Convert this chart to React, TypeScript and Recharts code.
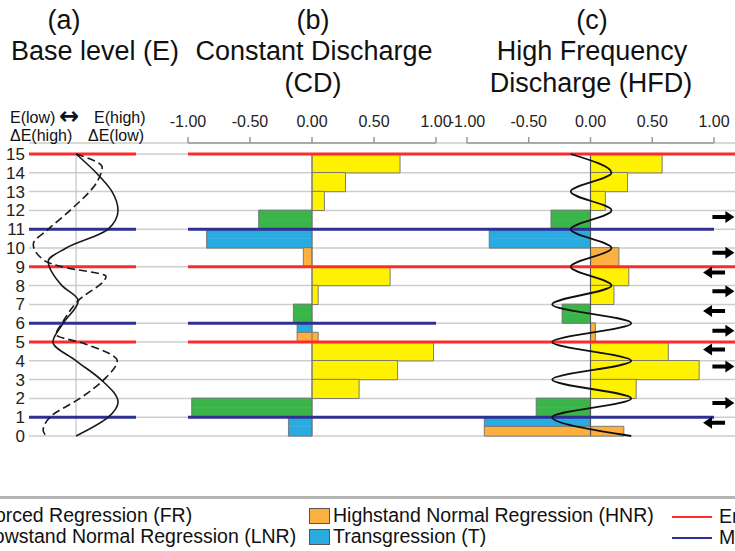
import React from "react";
import {
  ComposedChart,
  Bar,
  Line,
  Scatter,
  XAxis,
  YAxis,
  CartesianGrid,
  ReferenceLine,
} from "recharts";

const W = 735;
const H = 551;
const FONT = '"Liberation Sans", Arial, Helvetica, sans-serif';

// every layer shares this vertical frame: level 15 at y=154, level 0 at y=436
const PLOT_TOP = 143;
const PLOT_BOTTOM = 436;
const Y_MAX = 15 + 11 / 18.8;

const levelTicks = [0, 1, 2, 3, 4, 5, 6, 7, 8, 9, 10, 11, 12, 13, 14, 15];
const rowBase = [14, 13, 12, 11, 10, 9, 8, 7, 6, 5, 4, 3, 2, 1, 0];
const redLevels = [15, 9, 5];
const blueLevelsB = [11, 6, 1];
const blueLevelsC = [11, 1];
const valueTicks = [-1, -0.5, 0, 0.5, 1];

// (a) base level E (solid) and its change dE (dashed)
const eLevels = [15, 14, 13, 12, 11, 10, 9.3, 8, 7.2, 6, 5, 4, 3, 1.8, 1, 0];
const eValues = [0, 0.47, 0.84, 0.98, 0.75, -0.23, -0.65, -0.33, 0.05, -0.3, -0.54, 0, 0.58, 0.98, 0.75, 0];
const dELevels = [15, 14.3, 13.6, 12, 11, 10.2, 9.3, 9, 8.5, 7.2, 6, 5.4, 4.9, 4, 3, 2, 1, 0.3, 0];
const dEValues = [0, 0.61, 0.51, -0.14, -0.65, -1.0, -0.72, -0.33, 0.7, 0.05, -0.33, -0.47, 0.21, 0.96, 0.65, 0.09, -0.61, -0.77, -0.7];

// (b) constant discharge: upper / lower half of each interval, top row first
const cdUpperType = ["FR", "FR", "FR", "LNR", "T", "HNR", "FR", "FR", "LNR", "T", "FR", "FR", "FR", "LNR", "T"];
const cdUpperValue: (number | number[])[] = [0.71, 0.27, 0.1, -0.43, -0.85, -0.07, 0.63, 0.05, -0.15, -0.12, 0.98, 0.69, 0.38, -0.97, -0.19];
const cdLowerType = ["FR", "FR", "FR", "LNR", "T", "HNR", "FR", "FR", "LNR", "HNR", "FR", "FR", "FR", "LNR", "T"];
const cdLowerValue: (number | number[])[] = [0.71, 0.27, 0.1, -0.43, -0.85, -0.07, 0.63, 0.05, -0.15, [-0.12, 0.05], 0.98, 0.69, 0.38, -0.97, -0.19];

// (c) high frequency discharge
const hfdUpperType = ["FR", "FR", "FR", "LNR", "T", "HNR", "FR", "FR", "LNR", "HNR", "FR", "FR", "FR", "LNR", "T"];
const hfdUpperValue: (number | number[])[] = [0.58, 0.3, 0.12, -0.32, -0.82, 0.23, 0.31, 0.19, -0.23, 0.04, 0.63, 0.88, 0.37, -0.44, -0.86];
const hfdLowerType = ["FR", "FR", "FR", "LNR", "T", "HNR", "FR", "FR", "LNR", "HNR", "FR", "FR", "FR", "LNR", "HNR"];
const hfdLowerValue: (number | number[])[] = [0.58, 0.3, 0.12, -0.32, -0.82, 0.23, 0.31, 0.19, -0.23, 0.04, 0.63, 0.88, 0.37, -0.44, [-0.86, 0.27]];

const hfdCurveLevels = [15, 14, 13, 12, 11, 10, 9, 8, 7, 6, 5, 4, 3, 2, 1, 0];
const hfdCurveValues = [-0.16, 0.17, -0.16, 0.17, -0.16, 0.17, -0.16, 0.17, -0.31, 0.33, -0.31, 0.33, -0.31, 0.33, -0.31, 0.33];

// shoreline direction arrows beside (c)
const arrowLevels = [11.65, 9.75, 8.7, 7.7, 6.65, 5.6, 4.6, 3.7, 1.75, 0.7];
const arrowDirs = ["right", "right", "left", "right", "left", "right", "left", "right", "right", "left"];

const typeColor: Record<string, string> = {
  FR: "#fff200",
  LNR: "#3bb54a",
  HNR: "#fbb040",
  T: "#29abe2",
};

const legendLeft = [
  { label: "Forced Regression (FR)", type: "FR" },
  { label: "Lowstand Normal Regression (LNR)", type: "LNR" },
];
const legendMid = [
  { label: "Highstand Normal Regression (HNR)", type: "HNR" },
  { label: "Transgression (T)", type: "T" },
];
const legendLines = [
  { label: "End of regression", color: "#ff2a2a" },
  { label: "Maximum flooding", color: "#2e3192" },
];

const toRange = (v: number | number[]) => (Array.isArray(v) ? v : [Math.min(0, v), Math.max(0, v)]);

const buildRows = (uT: string[], uV: (number | number[])[], lT: string[], lV: (number | number[])[]) =>
  rowBase.flatMap((base, i) => {
    const joined = uT[i] === lT[i] && String(uV[i]) === String(lV[i]);
    return [
      { level: base + 0.75, type: uT[i], range: toRange(uV[i]), edgeTop: true, edgeBottom: !joined },
      { level: base + 0.25, type: lT[i], range: toRange(lV[i]), edgeTop: !joined, edgeBottom: true },
    ];
  });

const cdRows = buildRows(cdUpperType, cdUpperValue, cdLowerType, cdLowerValue);
const hfdRows = buildRows(hfdUpperType, hfdUpperValue, hfdLowerType, hfdLowerValue);
const halfTicks = rowBase.flatMap((b) => [b + 0.25, b + 0.75]);

const gridRows = levelTicks.map((level) => ({ level, x: 0 }));
const eCurve = eLevels.map((level, i) => ({ level, v: eValues[i] }));
const dECurve = dELevels.map((level, i) => ({ level, v: dEValues[i] }));
const hfdCurve = hfdCurveLevels.map((level, i) => ({ level, v: hfdCurveValues[i] }));
const arrowData = arrowLevels.map((level, i) => ({ level, dir: arrowDirs[i], x: arrowDirs[i] === "right" ? 0.64 : 0.43 }));

const BarShape = (props: any) => {
  const { x, y, width, height, payload } = props;
  if (x == null || y == null || !width) return null;
  const left = Math.min(x, x + width);
  const right = Math.max(x, x + width);
  const top = y - 0.3;
  const bottom = y + height + 0.5;
  const parts = [`M${left},${top}L${left},${bottom}`, `M${right},${top}L${right},${bottom}`];
  if (payload.edgeTop) parts.push(`M${left},${top}L${right},${top}`);
  if (payload.edgeBottom) parts.push(`M${left},${bottom}L${right},${bottom}`);
  return (
    <g>
      <rect x={left} y={top} width={right - left} height={bottom - top} fill={typeColor[payload.type]} />
      <path d={parts.join("")} stroke="#707070" strokeWidth={0.9} fill="none" />
    </g>
  );
};

const ArrowShape = (props: any) => {
  const { cx, cy, payload } = props;
  const s = payload.dir === "right" ? 1 : -1;
  const tail = cx - s * 10;
  const neck = cx + s * 3;
  const tip = cx + s * 12;
  const d = `M${tail},${cy - 2}L${neck},${cy - 2}L${neck},${cy - 6}L${tip},${cy}L${neck},${cy + 6}L${neck},${cy + 2}L${tail},${cy + 2}Z`;
  return <path d={d} fill="#000" />;
};

const layer: React.CSSProperties = { position: "absolute", left: 0, top: 0 };

const Centered = ({ cx, cy, size, children }: any) => (
  <div
    style={{
      position: "absolute",
      left: cx - 200,
      width: 400,
      top: cy - size * 0.6,
      lineHeight: `${size * 1.2}px`,
      fontSize: size,
      textAlign: "center",
      whiteSpace: "nowrap",
      color: "#111",
    }}
  >
    {children}
  </div>
);

const TextAt = ({ x, cy, size, children, style }: any) => (
  <div
    style={{
      position: "absolute",
      left: x,
      top: cy - size * 0.6,
      lineHeight: `${size * 1.2}px`,
      fontSize: size,
      whiteSpace: "nowrap",
      color: "#111",
      ...style,
    }}
  >
    {children}
  </div>
);

const valueAxisProps = {
  type: "number" as const,
  orientation: "top" as const,
  domain: [-1, 1],
  ticks: valueTicks,
  interval: 0,
  tickFormatter: (v: number) => v.toFixed(2),
  height: 30,
  axisLine: { stroke: "#9a9a9a", strokeWidth: 1.5 },
  tickLine: { stroke: "#9a9a9a", strokeWidth: 1.5 },
  tickSize: 6,
  tickMargin: 10,
  tick: { fontSize: 16, fill: "#222", fontFamily: FONT },
};

export default function App() {
  const levelAxis = (props: any = {}) => (
    <YAxis type="number" dataKey="level" domain={[0, Y_MAX]} reversed hide {...props} />
  );
  const vMargin = { top: PLOT_TOP, bottom: H - PLOT_BOTTOM };

  return (
    <div style={{ position: "absolute", left: 0, top: 0, width: W, height: H, overflow: "hidden", background: "#fff", fontFamily: FONT }}>
      {/* grid and level labels */}
      <div style={layer}>
        <ComposedChart width={W} height={H} layout="vertical" data={gridRows} margin={{ ...vMargin, left: 0, right: 0 }}>
          <CartesianGrid vertical={false} stroke="#cdcdcd" strokeWidth={1.5} />
          <XAxis type="number" dataKey="x" domain={[0, 1]} hide />
          <YAxis
            type="number"
            dataKey="level"
            domain={[0, Y_MAX]}
            reversed
            ticks={levelTicks}
            interval={0}
            width={29}
            axisLine={false}
            tickLine={false}
            tickSize={0}
            tickMargin={4}
            tick={{ fontSize: 17, fill: "#222", fontFamily: FONT }}
          />
          <Line dataKey="x" stroke="none" dot={false} isAnimationActive={false} />
        </ComposedChart>
      </div>

      {/* (a) base level */}
      <div style={layer}>
        <ComposedChart width={W} height={H} layout="vertical" margin={{ ...vMargin, left: 29, right: W - 136 }}>
          <XAxis type="number" domain={[-1.1, 1.4]} hide />
          {levelAxis()}
          <ReferenceLine segment={[{ x: 0, y: 0 }, { x: 0, y: 15 }]} stroke="#c4c4c4" strokeWidth={1.2} />
          {redLevels.map((l) => (
            <ReferenceLine key={`ar${l}`} y={l} stroke="#ff2a2a" strokeWidth={3} />
          ))}
          {blueLevelsB.map((l) => (
            <ReferenceLine key={`ab${l}`} y={l} stroke="#2e3192" strokeWidth={3} />
          ))}
          <Line data={eCurve} dataKey="v" type="monotone" stroke="#1a1a1a" strokeWidth={1.6} dot={false} isAnimationActive={false} />
          <Line data={dECurve} dataKey="v" type="monotone" stroke="#1a1a1a" strokeWidth={1.6} strokeDasharray="8 4" dot={false} isAnimationActive={false} />
        </ComposedChart>
      </div>

      {/* (b) constant discharge */}
      <div style={layer}>
        <ComposedChart
          width={W}
          height={H}
          layout="vertical"
          data={cdRows}
          barGap={0}
          barCategoryGap={0}
          margin={{ top: PLOT_TOP - 30, bottom: H - PLOT_BOTTOM, left: 188, right: W - 436 }}
        >
          <XAxis {...valueAxisProps} />
          {levelAxis({ ticks: halfTicks })}
          <Bar dataKey="range" barSize={9} shape={BarShape} isAnimationActive={false} />
          <ReferenceLine segment={[{ x: 0, y: 0 }, { x: 0, y: 15 }]} stroke="#777" strokeWidth={1} />
          {redLevels.map((l) => (
            <ReferenceLine key={`br${l}`} segment={[{ x: -1, y: l }, { x: 1.25, y: l }]} ifOverflow="visible" stroke="#ff2a2a" strokeWidth={3} />
          ))}
          {blueLevelsB.map((l) => (
            <ReferenceLine
              key={`bb${l}`}
              segment={[{ x: -1, y: l }, { x: blueLevelsC.includes(l) ? 1.25 : 1, y: l }]}
              ifOverflow="visible"
              stroke="#2e3192"
              strokeWidth={3}
            />
          ))}
        </ComposedChart>
      </div>

      {/* (c) high frequency discharge */}
      <div style={layer}>
        <ComposedChart
          width={W}
          height={H}
          layout="vertical"
          data={hfdRows}
          barGap={0}
          barCategoryGap={0}
          margin={{ top: PLOT_TOP - 30, bottom: H - PLOT_BOTTOM, left: 467, right: W - 714 }}
        >
          <XAxis {...valueAxisProps} />
          {levelAxis({ ticks: halfTicks })}
          <Bar dataKey="range" barSize={9} shape={BarShape} isAnimationActive={false} />
          <ReferenceLine segment={[{ x: 0, y: 0 }, { x: 0, y: 15 }]} stroke="#555" strokeWidth={1.2} />
          {redLevels.map((l) => (
            <ReferenceLine key={`cr${l}`} segment={[{ x: -1, y: l }, { x: 1.2, y: l }]} ifOverflow="visible" stroke="#ff2a2a" strokeWidth={3} />
          ))}
          {blueLevelsC.map((l) => (
            <ReferenceLine key={`cb${l}`} segment={[{ x: -1, y: l }, { x: 1, y: l }]} ifOverflow="visible" stroke="#2e3192" strokeWidth={3} />
          ))}
        </ComposedChart>
      </div>

      {/* (c) discharge oscillation */}
      <div style={layer}>
        <ComposedChart width={W} height={H} layout="vertical" margin={{ ...vMargin, left: 467, right: W - 714 }}>
          <XAxis type="number" domain={[-1, 1]} hide />
          {levelAxis()}
          <Line data={hfdCurve} dataKey="v" type="monotone" stroke="#111" strokeWidth={1.8} dot={false} isAnimationActive={false} />
        </ComposedChart>
      </div>

      {/* arrows */}
      <div style={layer}>
        <ComposedChart width={W} height={H} layout="vertical" margin={{ ...vMargin, left: 700, right: 0 }}>
          <XAxis type="number" dataKey="x" domain={[0, 1]} hide />
          {levelAxis()}
          <Scatter data={arrowData} shape={ArrowShape} isAnimationActive={false} />
        </ComposedChart>
      </div>

      {/* titles */}
      <Centered cx={64} cy={20} size={27}>(a)</Centered>
      <Centered cx={95} cy={51} size={27}>Base level (E)</Centered>
      <Centered cx={313} cy={20} size={27}>(b)</Centered>
      <Centered cx={314} cy={51} size={27}>Constant Discharge</Centered>
      <Centered cx={313} cy={83} size={27}>(CD)</Centered>
      <Centered cx={592} cy={20} size={27}>(c)</Centered>
      <Centered cx={592} cy={51} size={27}>High Frequency</Centered>
      <Centered cx={591} cy={83} size={27}>Discharge (HFD)</Centered>

      <TextAt x={10} cy={118} size={16}>E(low)</TextAt>
      <TextAt x={59} cy={116} size={24} style={{ fontFamily: '"DejaVu Sans", sans-serif', fontWeight: "bold" }}>↔</TextAt>
      <TextAt x={94} cy={118} size={16}>E(high)</TextAt>
      <TextAt x={10} cy={136} size={16}>ΔE(high)</TextAt>
      <TextAt x={88} cy={136} size={16}>ΔE(low)</TextAt>

      {/* legend */}
      <div style={{ position: "absolute", left: 0, top: 496, width: W, height: 3, background: "#b4b4b4" }} />
      {[legendLeft, legendMid].map((col, ci) =>
        col.map((item, ri) => {
          const x = ci === 0 ? -17 : 333;
          const cy = 516 + ri * 21;
          return (
            <React.Fragment key={item.type}>
              <div
                style={{
                  position: "absolute",
                  left: x - 24,
                  top: cy - 8,
                  width: 19,
                  height: 14,
                  background: typeColor[item.type],
                  border: "1px solid #555",
                }}
              />
              <TextAt x={x} cy={cy} size={19.5}>{item.label}</TextAt>
            </React.Fragment>
          );
        })
      )}
      {legendLines.map((item, ri) => {
        const cy = 517 + ri * 21;
        return (
          <React.Fragment key={item.label}>
            <div style={{ position: "absolute", left: 672, top: cy - 1, width: 40, height: 2, background: item.color }} />
            <TextAt x={719} cy={cy} size={19.5}>{item.label}</TextAt>
          </React.Fragment>
        );
      })}
    </div>
  );
}
